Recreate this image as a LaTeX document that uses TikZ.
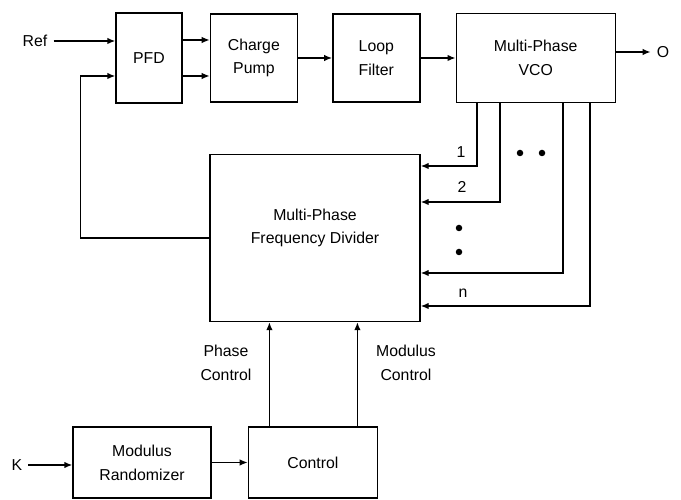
\documentclass[tikz,border=0pt]{standalone}
\usepackage{fontspec}
\setmainfont{Liberation Sans}
\usetikzlibrary{arrows.meta,positioning,calc}

\begin{document}
\begin{tikzpicture}[
  font=\fontsize{9}{13.5}\selectfont,
  box/.style={draw,line width=0.8pt,align=center,inner sep=2pt},
  map/.style={-{Latex[length=1.6mm,width=1.3mm]},line width=0.8pt}
]
\useasboundingbox (0,0) rectangle (13.62,-10);

% top row: the loop
\node[box,minimum width=1.32cm,minimum height=1.80cm] (pfd) at (2.98,-1.16) {PFD};
\node[box,minimum width=1.74cm,minimum height=1.76cm,right=0.54cm of pfd] (cp) {Charge\\Pump};
\node[box,minimum width=1.74cm,minimum height=1.76cm,right=0.68cm of cp] (lf) {Loop\\Filter};
\node[box,minimum width=3.18cm,minimum height=1.78cm,right=0.70cm of lf] (vco) {Multi-Phase\\VCO};
\node (ref) at (0.70,-0.82) {Ref};
\node (out) at (13.26,-1.04) {O};

\draw[map] (ref) -- (ref -| pfd.west);
\draw[map] ([yshift=0.36cm]pfd.east) -- ([yshift=0.36cm]pfd.east -| cp.west);
\draw[map] ([yshift=-0.36cm]pfd.east) -- ([yshift=-0.36cm]pfd.east -| cp.west);
\draw[map] (cp) -- (lf);
\draw[map] (lf) -- (vco);
\draw[map] (vco.east |- out) -- (out);

% divider
\node[box,minimum width=4.20cm,minimum height=3.34cm] (div) at (6.30,-4.76) {};
\node[align=center] (divtext) at (6.30,-4.56) {Multi-Phase\\Frequency Divider};
\draw[map] (div.west) -- ++(-2.58,0) |- ([yshift=-0.36cm]pfd.west);

% phase taps
\foreach \x/\y/\n in {9.54/3.32/1, 10.00/4.04/2, 11.26/5.46/3, 11.80/6.12/4}{
  \coordinate (t\n) at (\x,-\y);
  \draw[map] (t\n |- vco.south) |- (t\n -| div.east);
}
\node (l1) at (9.22,-3.04) {1};
\node (l2) at (9.24,-3.74) {2};
\node (ln) at (9.26,-5.86) {n};
\foreach \p in {(10.40,-3.06),(10.84,-3.06),(9.18,-4.56),(9.18,-5.04)}
  \fill \p circle (0.065);

% bottom row
\node[box,minimum width=2.76cm,minimum height=1.42cm] (mr) at (2.84,-9.25) {Modulus\\Randomizer};
\node[box,minimum width=2.58cm,minimum height=1.42cm,right=0.72cm of mr] (ctrl) {Control};
\node (k) at (0.34,-9.30) {K};
\draw[map] (k) -- (k -| mr.west);
\draw[map] (mr) -- (ctrl);

\draw[map] ([xshift=-0.87cm]ctrl.north) -- ([xshift=-0.87cm]ctrl.north |- div.south);
\draw[map] ([xshift=0.89cm]ctrl.north) -- ([xshift=0.89cm]ctrl.north |- div.south);
\node[align=center] (pc) at (4.52,-7.26) {Phase\\Control};
\node[align=center] (mc) at (8.12,-7.26) {Modulus\\Control};
\end{tikzpicture}
\end{document}
